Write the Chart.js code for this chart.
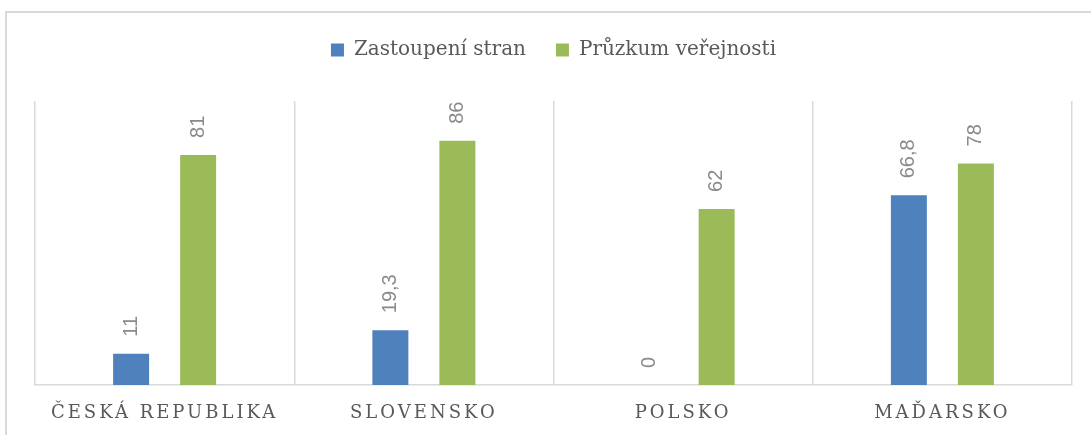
<!DOCTYPE html>
<html>
<head>
<meta charset="utf-8">
<script src="https://cdn.jsdelivr.net/npm/chart.js@4/dist/chart.umd.min.js"></script>
<style>
  html, body { margin: 0; padding: 0; background: #ffffff; overflow: hidden; }
  #wrap { position: relative; width: 1091px; height: 435px; }
  #frame { position: absolute; left: 5px; top: 11px; width: 1200px; height: 500px; border: 2px solid #d9d9d9; box-sizing: border-box; }
  canvas { position: absolute; left: 0; top: 0; }
</style>
</head>
<body>
<div id="wrap">
  <div id="frame"></div>
  <canvas id="c" width="1091" height="435"></canvas>
</div>
<script>
const categories = ['ČESKÁ REPUBLIKA', 'SLOVENSKO', 'POLSKO', 'MAĎARSKO'];
const seriesNames = ['Zastoupení stran', 'Průzkum veřejnosti'];
const zastoupeniStran = [11, 19.3, 0, 66.8];
const pruzkumVerejnosti = [81, 86, 62, 78];
const yMin = 0;
const yMax = 100;

class SpacedCategoryScale extends Chart.CategoryScale {
  static id = 'spacedCategory';
  drawLabels(chartArea) {
    const ctx = this.ctx;
    ctx.save();
    ctx.letterSpacing = '3px';
    super.drawLabels(chartArea);
    ctx.restore();
  }
}
Chart.register(SpacedCategoryScale);

const fmt = v => String(v).replace('.', ',');

const barLabels = {
  id: 'barLabels',
  afterDatasetsDraw(chart) {
    const ctx = chart.ctx;
    ctx.save();
    ctx.font = '20px "Liberation Sans", Arial, sans-serif';
    ctx.fillStyle = '#8a8a8a';
    ctx.textAlign = 'left';
    ctx.textBaseline = 'middle';
    chart.data.datasets.forEach((ds, di) => {
      const meta = chart.getDatasetMeta(di);
      meta.data.forEach((bar, i) => {
        ctx.save();
        ctx.translate(bar.x, bar.y - 17);
        ctx.rotate(-Math.PI / 2);
        ctx.fillText(fmt(ds.data[i]), 0, 0);
        ctx.restore();
      });
    });
    ctx.restore();
  }
};

new Chart(document.getElementById('c'), {
  type: 'bar',
  data: {
    labels: categories,
    datasets: [
      { label: seriesNames[0], data: zastoupeniStran, backgroundColor: '#4f81bd', borderWidth: 0 },
      { label: seriesNames[1], data: pruzkumVerejnosti, backgroundColor: '#9bbb59', borderWidth: 0 }
    ]
  },
  options: {
    responsive: false,
    animation: false,
    devicePixelRatio: 1,
    categoryPercentage: 0.517,
    barPercentage: 0.537,
    layout: { padding: { top: 10, left: 35, right: 19, bottom: 0 } },
    plugins: {
      tooltip: { enabled: false },
      legend: {
        position: 'top',
        labels: {
          boxWidth: 13,
          boxHeight: 13,
          padding: 30,
          color: '#595959',
          font: { family: 'DejaVu Serif', size: 20 }
        }
      },
      title: {
        display: true,
        text: '',
        weight: 500,
        padding: { top: 21, bottom: 0 },
        font: { size: 10, lineHeight: 1 }
      }
    },
    scales: {
      x: {
        type: 'spacedCategory',
        grid: { display: true, offset: true, color: '#d9d9d9', lineWidth: 1.5, drawTicks: false },
        border: { display: true, color: '#d9d9d9', width: 1.5 },
        ticks: {
          color: '#595959',
          font: { family: 'DejaVu Serif', size: 18 },
          padding: 18,
          maxRotation: 0,
          autoSkip: false
        },
        afterFit: s => { s.height = 50; }
      },
      y: {
        display: false,
        min: yMin,
        max: yMax
      }
    }
  },
  plugins: [barLabels]
});
</script>
</body>
</html>
